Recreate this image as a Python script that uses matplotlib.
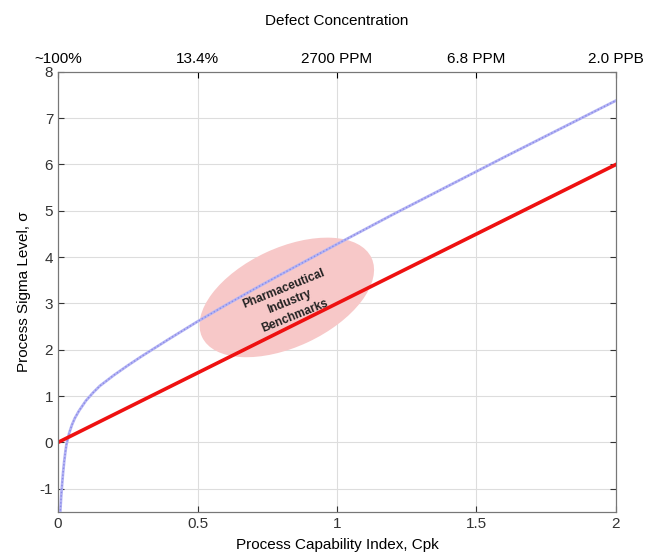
import matplotlib
matplotlib.use("Agg")
import matplotlib.pyplot as plt
import matplotlib.transforms as mtransforms
from matplotlib.patches import Ellipse
import numpy as np

plt.rcParams['font.family'] = ['Liberation Sans', 'DejaVu Sans']
plt.rcParams['axes.unicode_minus'] = False

# datos
cpk = [0.007, 0.008, 0.011, 0.014, 0.018, 0.022, 0.026, 0.03, 0.04, 0.05, 0.06, 0.075,
       0.1, 0.125, 0.15, 0.2, 0.25, 0.3, 0.4, 0.5, 0.6, 0.7, 0.8, 1.0, 1.2, 1.4, 1.6, 1.8, 2.0]
sigma = [-1.62, -1.5, -1.2, -0.95, -0.66, -0.42, -0.22, -0.05, 0.2, 0.38, 0.52, 0.68,
         0.9, 1.07, 1.22, 1.45, 1.66, 1.86, 2.24, 2.61, 2.96, 3.30, 3.63, 4.28, 4.92,
         5.54, 6.16, 6.77, 7.38]
cpk_linea = [0, 2]
sigma_linea = [0, 6]

top_ticks = [0, 0.5, 1, 1.5, 2]
top_labels = ["~100%", "13.4%", "2700 PPM", "6.8 PPM", "2.0 PPB"]

fig = plt.figure(figsize=(6.49, 5.57), dpi=100)
ax = fig.add_axes([0.0894, 0.081, 0.8597, 0.790])

# elipse de referencia (tamanio en pulgadas)
trans = fig.dpi_scale_trans + mtransforms.ScaledTranslation(0.82, 3.13, ax.transData)
elipse = Ellipse((0, 0), width=1.87, height=0.99, angle=25, transform=trans,
                 facecolor='#f7c8c8', edgecolor='none', zorder=1)
ax.add_patch(elipse)

ax.plot(cpk, sigma, color='#b4b4f4', linewidth=2.0, zorder=3)
ax.plot(cpk, sigma, color='#8a8ae8', linewidth=1.0, linestyle=(0, (1, 1.5)), zorder=3)
ax.plot(cpk_linea, sigma_linea, color='#ee1111', linewidth=2.6, zorder=4)

ax.text(0.83, 3.03, "Pharmaceutical\nIndustry\nBenchmarks", rotation=22,
        ha='center', va='center', fontsize=8.5, fontweight='bold', color='#222222',
        linespacing=1.3, zorder=5)

ax.set_xlim(0, 2)
ax.set_ylim(-1.5, 8)
ax.set_xticks([0, 0.5, 1, 1.5, 2])
ax.set_xticklabels(["0", "0.5", "1", "1.5", "2"])
ax.set_yticks(range(-1, 9))
ax.grid(True, color='#dddddd', linewidth=0.8, zorder=0)
ax.set_axisbelow(True)
ax.tick_params(direction='in', labelsize=11, colors='#333333', length=4,
               top=True, right=True)
for s in ax.spines.values():
    s.set_color('#777777')

ax.set_xlabel("Process Capability Index, Cpk", fontsize=11, labelpad=5)
ax.set_ylabel("Process Sigma Level, σ", fontsize=11, labelpad=6)

ax2 = ax.twiny()
ax2.set_xlim(ax.get_xlim())
ax2.set_xticks(top_ticks)
ax2.set_xticklabels(top_labels)
ax2.tick_params(direction='in', labelsize=11, length=4, pad=4)
for s in ax2.spines.values():
    s.set_color('#777777')
ax2.set_xlabel("Defect Concentration", fontsize=11, labelpad=20)

plt.savefig("out.png", dpi=100)
